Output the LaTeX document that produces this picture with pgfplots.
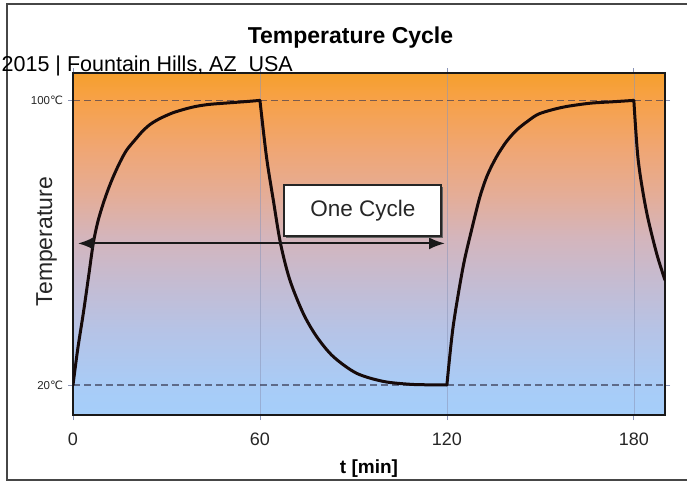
\documentclass[border=0pt]{standalone}
\usepackage{fontspec}
\setmainfont{Liberation Sans}
\newfontfamily\dejavu{DejaVu Sans}
\usepackage{pgfplots}
\pgfplotsset{compat=1.18}
\usetikzlibrary{arrows.meta,shadows}
\definecolor{gridc}{RGB}{140,150,185}
\definecolor{dashc}{RGB}{55,55,80}
\definecolor{framec}{RGB}{70,70,70}
\definecolor{curvec}{RGB}{22,10,10}
\pgfdeclareverticalshading{tempbg}{100bp}{
  color(0bp)=(rgb,255:red,165;green,206;blue,250);
  color(25bp)=(rgb,255:red,165;green,206;blue,250);
  color(29bp)=(rgb,255:red,168;green,204;blue,247);
  color(37.5bp)=(rgb,255:red,182;green,195;blue,230);
  color(45bp)=(rgb,255:red,198;green,187;blue,208);
  color(51bp)=(rgb,255:red,212;green,181;blue,188);
  color(57bp)=(rgb,255:red,228;green,173;blue,152);
  color(64bp)=(rgb,255:red,240;green,166;blue,115);
  color(71bp)=(rgb,255:red,247;green,161;blue,72);
  color(75bp)=(rgb,255:red,246;green,160;blue,45);
  color(100bp)=(rgb,255:red,246;green,160;blue,45)}
\begin{document}
\begin{tikzpicture}[x=1pt,y=1pt]
\useasboundingbox (0,0) rectangle (687,483);
\draw[line width=2pt, color=framec] (687,479) -- (7,479) -- (7,3) -- (687,3);
\begin{axis}[
  at={(73pt,68pt)}, anchor=south west,
  scale only axis, width=592pt, height=342pt,
  xmin=0, xmax=190, ymin=11.56, ymax=107.7,
  axis line style={line width=2pt, color=black!90},
  axis background/.style={shading=tempbg},
  xtick={0,60,120,180}, xticklabels={0,60,120,180},
  ytick={20,100}, yticklabels={{20{\dejavu ℃}},{100{\dejavu ℃}}},
  /pgf/number format/assume math mode=true,
  tick align=outside, major tick length=5pt,
  tick style={color=gridc, line width=0.8pt},
  xmajorgrids, ymajorgrids,
  x grid style={color=gridc, line width=0.6pt, opacity=0.55},
  y grid style={color=dashc, line width=1.2pt, dash pattern=on 7pt off 4pt, opacity=0.65},
  xticklabel style={font=\fontsize{18}{18}\selectfont, color=black!85, yshift=-9pt},
  yticklabel style={font=\fontsize{11.5}{11.5}\selectfont, color=black!85, xshift=-1.5pt},
  xlabel={t [min]},
  xlabel style={font=\fontsize{19}{19}\selectfont\bfseries, at={(axis description cs:0.5,0)}, anchor=base, yshift=-58.3pt},
  clip=true,
]
\addplot[line width=3pt, color=curvec, line cap=round, smooth, tension=0.5] coordinates {
 (0,20) (1.5,30) (3.3,40.1) (5,50.5) (6.5,59.8) (8,66) (9.7,71) (11.3,75) (12.9,78.5) (15,82.5)
 (17.2,86) (20,89) (22.6,91.6) (25,93.4) (27.9,94.9) (32,96.5) (36.5,97.7) (40,98.4) (44,98.9)
 (51.4,99.4) (56,99.7) (60,100)};
\addplot[line width=3pt, color=curvec, line cap=round, smooth, tension=0.5] coordinates {
 (60,100) (62.1,84.1) (64.3,71.9) (66.6,59.8) (69.6,49.5) (73.9,40.1) (78.2,33.6) (83.5,28) (91,23.3)
 (99.6,21) (108.1,20.2) (114,20.05) (120,20)};
\addplot[line width=3pt, color=curvec, line cap=round, smooth, tension=0.5] coordinates {
 (120,20) (122,36.4) (125.2,53.2) (127.9,63.5) (130.6,72.9) (133,79) (135.9,84.1) (139,88.3) (142.3,91.6)
 (146,94.2) (149.8,96.3) (157.3,98.1) (165.9,99.2) (173,99.6) (180,100)};
\addplot[line width=3pt, color=curvec, line cap=round, smooth, tension=0.5] coordinates {
 (180,100) (181.4,83.2) (184,69) (187.3,57) (190,49.5)};
\addplot[line width=2pt, color=black!90, {Latex[length=16pt,width=13pt]}-{Latex[length=16pt,width=12pt]}] coordinates {(1.6,59.8) (119.4,59.8)};
\node[draw=black!85, line width=2pt, fill=white, minimum width=157pt, minimum height=51pt,
  general shadow={shadow xshift=1.5pt, shadow yshift=-1.5pt, fill=black!60},
  font=\fontsize{22.5}{22.5}\selectfont, text=black!85] at (axis cs:93,69) {One Cycle};
\end{axis}
\node[rotate=90, anchor=base, font=\fontsize{23}{23}\selectfont, text=black!85] at (52,241.3) {Temperature};
\node[anchor=base, font=\fontsize{23}{23}\selectfont\bfseries] at (350.5,439.7) {Temperature Cycle};
\node[anchor=base west, inner sep=0pt, font=\fontsize{21.5}{21.5}\selectfont] at (1.5,411.3) {2015 | Fountain Hills, AZ\ \ USA};
\end{tikzpicture}
\end{document}
